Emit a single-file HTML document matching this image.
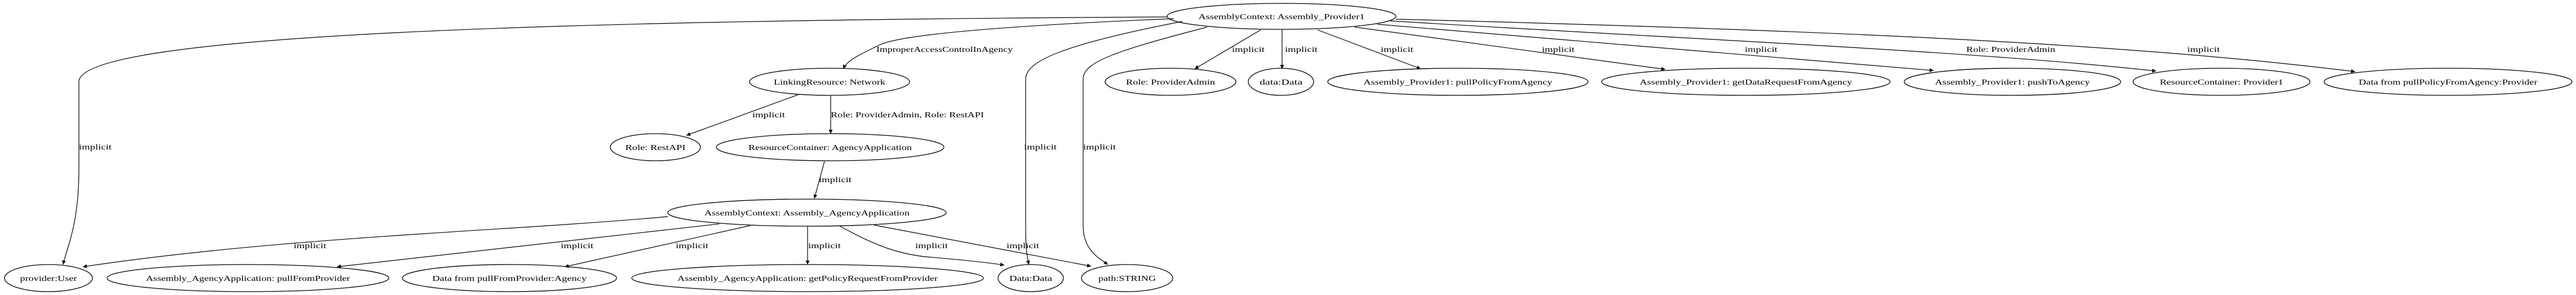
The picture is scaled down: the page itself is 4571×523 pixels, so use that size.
<!DOCTYPE html>
<html><head><meta charset="utf-8"><style>html,body{margin:0;padding:0;background:#fff}svg{display:block}</style></head><body>
<svg width="4571" height="523" viewBox="0 0 4571 523" xmlns="http://www.w3.org/2000/svg" font-family="'Liberation Serif', serif" font-size="14">
<defs><marker id="a" viewBox="0 0 10 10" refX="10" refY="5" markerWidth="10" markerHeight="7" markerUnits="userSpaceOnUse" orient="auto"><path d="M0,0 L10,5 L0,10 z" fill="#000"/></marker></defs>
<g fill="none" stroke="#000" stroke-width="1.2" marker-end="url(#a)">
<path d="M2071,30 C1000,36 140,60 140,145 L140,300 C140,400 118,440 112,469"/>
<path d="M2083,33 C1800,45 1600,60 1560,80 C1530,95 1505,105 1496,122"/>
<path d="M2098,38 C1880,80 1820,110 1820,140 L1820,400 C1820,440 1822,455 1826,469"/>
<path d="M2142,48 C1980,90 1922,110 1922,140 L1922,400 C1922,440 1945,455 1966,469"/>
<path d="M2237,53 L2120,122"/>
<path d="M2275,52 L2275,122"/>
<path d="M2338,53 L2521,122"/>
<path d="M2404,48 L2955,123"/>
<path d="M2444,43 L3431,125"/>
<path d="M2467,37 C3000,70 3500,90 3826,126"/>
<path d="M2477,34 C3300,55 3800,80 4179,127"/>
<path d="M1416,168 L1218,240"/>
<path d="M1474,169 L1474,237"/>
<path d="M1463,286 L1445,352"/>
<path d="M1185,384 C900,410 500,420 147,473"/>
<path d="M1276,397 L598,473"/>
<path d="M1331,400 L1002,473"/>
<path d="M1433,401 L1433,469"/>
<path d="M1489,400 C1560,440 1600,450 1640,455 C1700,460 1750,465 1782,470"/>
<path d="M1551,399 L1936,472"/>
</g>
<g fill="none" stroke="#000" stroke-width="1.3">
<ellipse cx="2274" cy="29" rx="203" ry="23"/>
<ellipse cx="1472" cy="145" rx="142" ry="24"/>
<ellipse cx="2077" cy="145" rx="116" ry="24"/>
<ellipse cx="2273" cy="145" rx="58" ry="24"/>
<ellipse cx="2587" cy="145" rx="231" ry="24"/>
<ellipse cx="3098" cy="145" rx="256" ry="24"/>
<ellipse cx="3571" cy="145" rx="192" ry="24"/>
<ellipse cx="3942" cy="145" rx="157" ry="24"/>
<ellipse cx="4344" cy="145" rx="220" ry="24"/>
<ellipse cx="1163" cy="261" rx="80" ry="24"/>
<ellipse cx="1473" cy="261" rx="202" ry="24"/>
<ellipse cx="1432" cy="377" rx="247" ry="24"/>
<ellipse cx="86" cy="493" rx="78" ry="24"/>
<ellipse cx="440" cy="493" rx="250" ry="24"/>
<ellipse cx="904" cy="493" rx="190" ry="24"/>
<ellipse cx="1433" cy="493" rx="312" ry="24"/>
<ellipse cx="1829" cy="493" rx="58" ry="24"/>
<ellipse cx="2000" cy="493" rx="81" ry="24"/>
</g>
<g text-anchor="middle" fill="#000" lengthAdjust="spacingAndGlyphs">
<text x="2274" y="34" textLength="295" lengthAdjust="spacingAndGlyphs">AssemblyContext: Assembly_Provider1</text>
<text x="1472" y="150" textLength="198" lengthAdjust="spacingAndGlyphs">LinkingResource: Network</text>
<text x="2077" y="150" textLength="158" lengthAdjust="spacingAndGlyphs">Role: ProviderAdmin</text>
<text x="2273" y="150" textLength="76" lengthAdjust="spacingAndGlyphs">data:Data</text>
<text x="2587" y="150" textLength="335" lengthAdjust="spacingAndGlyphs">Assembly_Provider1: pullPolicyFromAgency</text>
<text x="3098" y="150" textLength="377" lengthAdjust="spacingAndGlyphs">Assembly_Provider1: getDataRequestFromAgency</text>
<text x="3571" y="150" textLength="275" lengthAdjust="spacingAndGlyphs">Assembly_Provider1: pushToAgency</text>
<text x="3942" y="150" textLength="219" lengthAdjust="spacingAndGlyphs">ResourceContainer: Provider1</text>
<text x="4344" y="150" textLength="317" lengthAdjust="spacingAndGlyphs">Data from pullPolicyFromAgency:Provider</text>
<text x="1163" y="266" textLength="107" lengthAdjust="spacingAndGlyphs">Role: RestAPI</text>
<text x="1473" y="266" textLength="290" lengthAdjust="spacingAndGlyphs">ResourceContainer: AgencyApplication</text>
<text x="1432" y="382" textLength="364" lengthAdjust="spacingAndGlyphs">AssemblyContext: Assembly_AgencyApplication</text>
<text x="86" y="498" textLength="101" lengthAdjust="spacingAndGlyphs">provider:User</text>
<text x="440" y="498" textLength="362" lengthAdjust="spacingAndGlyphs">Assembly_AgencyApplication: pullFromProvider</text>
<text x="904" y="498" textLength="274" lengthAdjust="spacingAndGlyphs">Data from pullFromProvider:Agency</text>
<text x="1433" y="498" textLength="462" lengthAdjust="spacingAndGlyphs">Assembly_AgencyApplication: getPolicyRequestFromProvider</text>
<text x="1829" y="498" textLength="76" lengthAdjust="spacingAndGlyphs">Data:Data</text>
<text x="2000" y="498" textLength="102" lengthAdjust="spacingAndGlyphs">path:STRING</text>
</g>
<g text-anchor="start" fill="#000">
<text x="140" y="265" textLength="58" lengthAdjust="spacingAndGlyphs">implicit</text>
<text x="1555" y="92" textLength="242" lengthAdjust="spacingAndGlyphs">ImproperAccessControlInAgency</text>
<text x="1817" y="265" textLength="58" lengthAdjust="spacingAndGlyphs">implicit</text>
<text x="1922" y="265" textLength="58" lengthAdjust="spacingAndGlyphs">implicit</text>
<text x="2186" y="92" textLength="58" lengthAdjust="spacingAndGlyphs">implicit</text>
<text x="2280" y="92" textLength="58" lengthAdjust="spacingAndGlyphs">implicit</text>
<text x="2450" y="92" textLength="58" lengthAdjust="spacingAndGlyphs">implicit</text>
<text x="2736" y="92" textLength="58" lengthAdjust="spacingAndGlyphs">implicit</text>
<text x="3096" y="92" textLength="58" lengthAdjust="spacingAndGlyphs">implicit</text>
<text x="3489" y="92" textLength="158" lengthAdjust="spacingAndGlyphs">Role: ProviderAdmin</text>
<text x="3881" y="92" textLength="58" lengthAdjust="spacingAndGlyphs">implicit</text>
<text x="1335" y="208" textLength="58" lengthAdjust="spacingAndGlyphs">implicit</text>
<text x="1474" y="208" textLength="272" lengthAdjust="spacingAndGlyphs">Role: ProviderAdmin, Role: RestAPI</text>
<text x="1453" y="323" textLength="58" lengthAdjust="spacingAndGlyphs">implicit</text>
<text x="521" y="440" textLength="58" lengthAdjust="spacingAndGlyphs">implicit</text>
<text x="995" y="440" textLength="58" lengthAdjust="spacingAndGlyphs">implicit</text>
<text x="1199" y="440" textLength="58" lengthAdjust="spacingAndGlyphs">implicit</text>
<text x="1434" y="440" textLength="58" lengthAdjust="spacingAndGlyphs">implicit</text>
<text x="1624" y="440" textLength="58" lengthAdjust="spacingAndGlyphs">implicit</text>
<text x="1786" y="440" textLength="58" lengthAdjust="spacingAndGlyphs">implicit</text>
</g>
</svg>
</body></html>
